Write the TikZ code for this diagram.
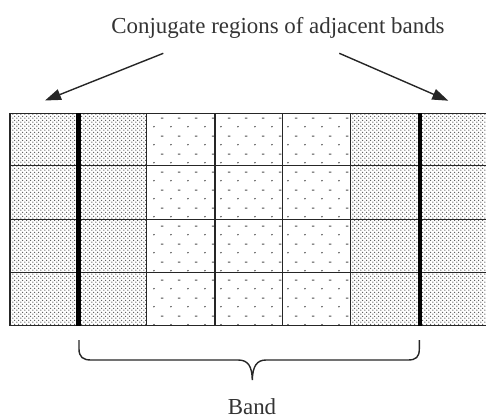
\documentclass[tikz,border=0pt]{standalone}
\usepackage{fontspec}
\setmainfont{Liberation Serif}
\usetikzlibrary{patterns,arrows.meta}
\pgfdeclarepatternformonly{densedots}{\pgfpointorigin}{\pgfpoint{4.2pt}{4.2pt}}{\pgfpoint{4.2pt}{4.2pt}}{%
  \pgfpathcircle{\pgfpoint{1pt}{1pt}}{0.8pt}%
  \pgfpathcircle{\pgfpoint{3.1pt}{3.1pt}}{0.8pt}%
  \pgfusepath{fill}}
\pgfdeclarepatternformonly{sparsedots}{\pgfpointorigin}{\pgfpoint{16.7pt}{18pt}}{\pgfpoint{16.7pt}{18pt}}{%
  \pgfpathcircle{\pgfpoint{4pt}{4.5pt}}{0.85pt}%
  \pgfpathrectangle{\pgfpoint{11pt}{13pt}}{\pgfpoint{2.6pt}{1.1pt}}%
  \pgfusepath{fill}}
\tikzset{
  gridline/.style={line width=1.4pt, black!85},
  bandline/.style={line width=4.5pt, black},
  pointer/.style={line width=1.4pt, black!85, -{Triangle[length=16pt,width=11pt]}},
  label/.style={font=\fontsize{22.9}{26}\selectfont, text=black!80, inner sep=0pt, anchor=base},
  denseface/.style={pattern=densedots, pattern color=black!68},
  sparseface/.style={pattern=sparsedots, pattern color=black!70},
}
\begin{document}
\begin{tikzpicture}[x=1pt,y=-1pt]
\useasboundingbox (0,0) rectangle (486,419);
% column faces
\fill[denseface]  (10,113.3) rectangle (78.3,325.7);
\fill[denseface]  (78.3,113.3) rectangle (146.7,325.7);
\fill[sparseface] (146.7,113.3) rectangle (215,325.7);
\fill[sparseface] (215,113.3) rectangle (282.7,325.7);
\fill[sparseface] (282.7,113.3) rectangle (350.7,325.7);
\fill[denseface]  (350.7,113.3) rectangle (420,325.7);
\fill[denseface]  (420,113.3) rectangle (488.5,325.7);
% grid lines
\draw[gridline] (10,113.3) rectangle (488.5,325.7);
\foreach \y in {165.7,219.3,272.7}
  \draw[gridline] (10,\y) -- (488.5,\y);
\foreach \x in {146.7,215,282.7,350.7}
  \draw[gridline] (\x,113.3) -- (\x,325.7);
\draw[bandline] (78.3,113.3) -- (78.3,325.7);
\draw[bandline] (420,113.3) -- (420,325.7);
% top label and pointers
\node[label] (conj) at (278,33.3) {Conjugate regions of adjacent bands};
\coordinate (la) at (163.3,53.3);
\coordinate (lt) at (45,100.5);
\coordinate (ra) at (339.3,53.3);
\coordinate (rt) at (448.3,100.7);
\draw[pointer] (la) -- (lt);
\draw[pointer] (ra) -- (rt);
% brace
\draw[gridline] (79,340) -- (79,349) .. controls (79,357) and (83,360) .. (91,360)
  -- (238,360) .. controls (248,360) and (252,366) .. (252.3,380)
  .. controls (252.6,366) and (257,360) .. (266,360)
  -- (408,360) .. controls (416,360) and (419.3,357) .. (419.3,349) -- (419.3,340);
\node[label] (band) at (252,414.5) {Band};
\end{tikzpicture}
\end{document}
